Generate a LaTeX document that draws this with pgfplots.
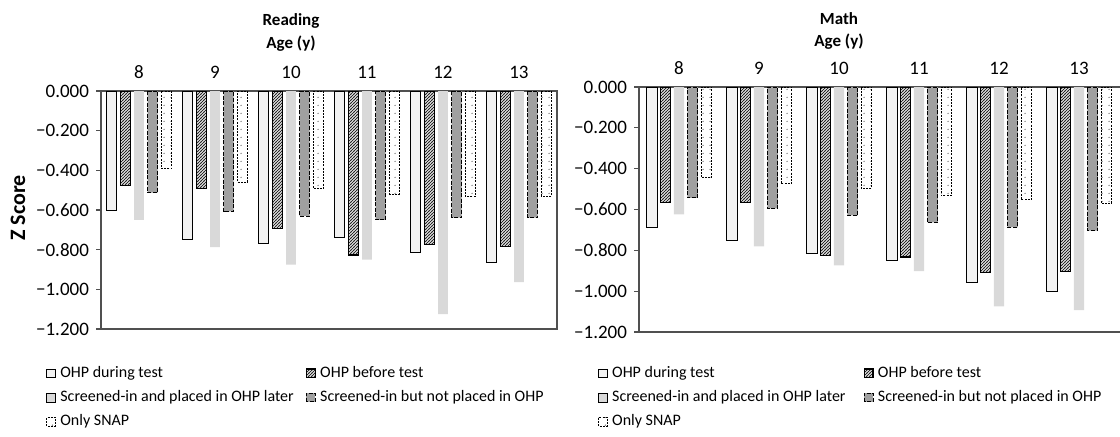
\documentclass[border=0pt]{standalone}
\usepackage{fontspec}
\setmainfont{Carlito}
\usepackage{pgfplots}
\pgfplotsset{compat=1.18}
\usetikzlibrary{patterns,patterns.meta}
\definecolor{ohpdur}{HTML}{F2F2F2}
\definecolor{later}{HTML}{D9D9D9}
\definecolor{notpl}{HTML}{A0A0A0}
\definecolor{axgray}{HTML}{505050}
\tikzdeclarepattern{
  name=hatchdense,
  type=uncolored,
  bounding box={(-0.2pt,-0.2pt) and (1.7pt,1.7pt)},
  tile size={(1.5pt,1.5pt)},
  code={\draw[line width=0.5pt] (-0.2pt,-0.2pt) -- (1.7pt,1.7pt);}
}
\tikzdeclarepattern{
  name=sparsedots,
  type=uncolored,
  bounding box={(0pt,0pt) and (3.5pt,4pt)},
  tile size={(3.5pt,4pt)},
  code={\fill (1.75pt,2pt) circle (0.4pt);}
}
\pgfplotsset{
  zbase/.style={
    scale only axis,
    ymin=-1.2, ymax=0,
    ytick={-1.2,-1,-0.8,-0.6,-0.4,-0.2,0},
    yticklabels={−1.200,−1.000,−0.800,−0.600,−0.400,−0.200,0.000},
    ytick pos=left, tick align=outside,
    major tick length=2.5pt,
    xtick={0,1,2,3,4,5}, xticklabels={8,9,10,11,12,13},
    xticklabel pos=right,
    x tick style={draw=none},
    y tick style={axgray, line width=0.65pt},
    axis line style={axgray, line width=0.65pt},
    tick label style={font=\fontsize{9.5}{11}\selectfont},
    legend style={draw=none, fill=none, font=\fontsize{8}{9}\selectfont,
      legend columns=2, cells={anchor=west}, row sep=3pt,
      nodes={inner sep=1pt},
      /tikz/every odd column/.append style={column sep=1.2pt}},
    legend cell align=left,
  },
  lgimg/.style={legend image code/.code={\draw[##1] (0pt,-2.2pt) rectangle (4.4pt,2.2pt);}},
  bA/.style={ybar, bar width=#1, fill=ohpdur, draw=black, line width=0.45pt, lgimg},
  bB/.style={ybar, bar width=#1, pattern=hatchdense, pattern color=black!85, draw=black, line width=0.6pt, lgimg},
  bC/.style={ybar, bar width=#1, fill=later, draw=none, lgimg},
  bD/.style={ybar, bar width=#1, fill=notpl, draw=black, line width=0.45pt, dash pattern=on 2pt off 0.8pt, lgimg},
  bE/.style={ybar, bar width=#1, pattern=sparsedots, pattern color=black!55, draw=black, line width=0.45pt, dash pattern=on 1pt off 0.6pt, lgimg},
}
\begin{document}
\begin{tikzpicture}
\useasboundingbox (0,0) rectangle (560pt,-218pt);
% ---------------- Reading ----------------
\begin{axis}[zbase,
  at={(50.5pt,-45.5pt)}, anchor=north west,
  width=228pt, height=119pt,
  xmin=-0.5, xmax=5.5,
  legend style={at={(-0.134,-0.13)}, anchor=north west,
    /tikz/every even column/.append style={column sep=5pt}},
]
\addplot[bA=0.13, bar shift=-0.36] coordinates {(0,-0.600) (1,-0.747) (2,-0.768) (3,-0.738) (4,-0.813) (5,-0.863)};
\addplot[bB=0.13, bar shift=-0.18] coordinates {(0,-0.477) (1,-0.492) (2,-0.693) (3,-0.827) (4,-0.775) (5,-0.783)};
\addplot[bC=0.13, bar shift=0] coordinates {(0,-0.650) (1,-0.787) (2,-0.875) (3,-0.850) (4,-1.125) (5,-0.963)};
\addplot[bD=0.13, bar shift=0.18] coordinates {(0,-0.512) (1,-0.607) (2,-0.630) (3,-0.650) (4,-0.638) (5,-0.638)};
\addplot[bE=0.13, bar shift=0.36] coordinates {(0,-0.392) (1,-0.460) (2,-0.492) (3,-0.520) (4,-0.533) (5,-0.530)};
\legend{OHP during test, OHP before test, Screened-in and placed in OHP later, Screened-in but not placed in OHP, Only SNAP}
\end{axis}
% ---------------- Math ----------------
\begin{axis}[zbase,
  at={(319.5pt,-43.5pt)}, anchor=north west,
  width=241.5pt, height=122.5pt,
  xmin=-0.5, xmax=5.5375,
  legend style={at={(-0.098,-0.114)}, anchor=north west,
    /tikz/every even column/.append style={column sep=8pt}},
]
\addplot[bA=0.13, bar shift=-0.34] coordinates {(0,-0.686) (1,-0.752) (2,-0.817) (3,-0.850) (4,-0.959) (5,-1.003)};
\addplot[bB=0.13, bar shift=-0.17] coordinates {(0,-0.565) (1,-0.565) (2,-0.824) (3,-0.833) (4,-0.908) (5,-0.902)};
\addplot[bC=0.13, bar shift=0] coordinates {(0,-0.624) (1,-0.781) (2,-0.874) (3,-0.902) (4,-1.075) (5,-1.093)};
\addplot[bD=0.13, bar shift=0.17] coordinates {(0,-0.543) (1,-0.595) (2,-0.629) (3,-0.663) (4,-0.686) (5,-0.703)};
\addplot[bE=0.13, bar shift=0.34] coordinates {(0,-0.444) (1,-0.474) (2,-0.497) (3,-0.531) (4,-0.552) (5,-0.569)};
\legend{OHP during test, OHP before test, Screened-in and placed in OHP later, Screened-in but not placed in OHP, Only SNAP}
\end{axis}
% titles and label
\node[font=\bfseries\fontsize{8.5}{10}\selectfont] at (145.5pt,-10.5pt) {Reading};
\node[font=\bfseries\fontsize{8.5}{10}\selectfont] at (145.5pt,-22pt) {Age (y)};
\node[font=\bfseries\fontsize{8.5}{10}\selectfont] at (419.5pt,-9.5pt) {Math};
\node[font=\bfseries\fontsize{8.5}{10}\selectfont] at (419.5pt,-21pt) {Age (y)};
\node[font=\bfseries\fontsize{11}{13}\selectfont, rotate=90] at (9pt,-104pt) {Z Score};
\end{tikzpicture}
\end{document}
